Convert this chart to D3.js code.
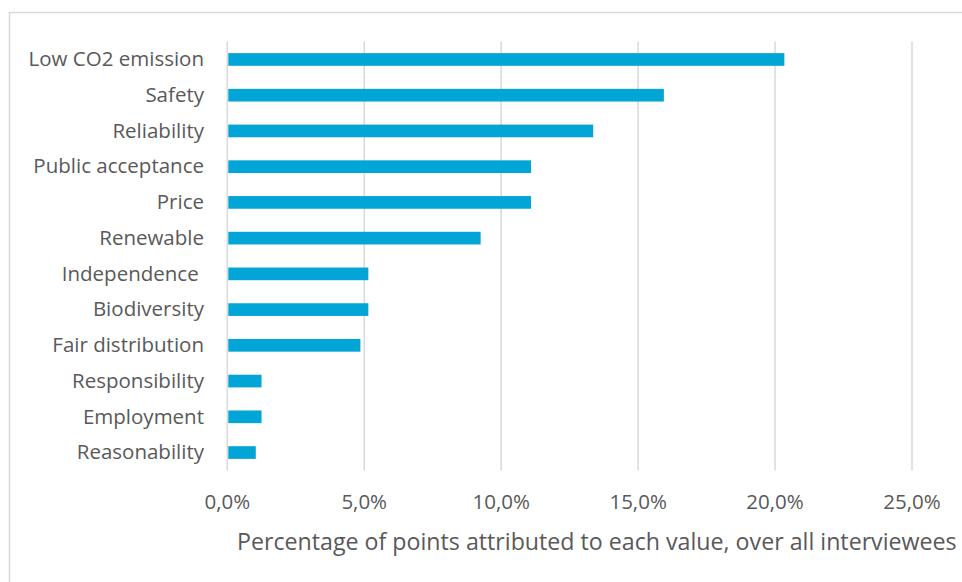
<!DOCTYPE html>
<html>
<head>
<meta charset="utf-8">
<script src="https://cdnjs.cloudflare.com/ajax/libs/d3/7.8.5/d3.min.js"></script>
<style>
  body { margin: 0; background: #fff; }
  svg { display: block; }
</style>
</head>
<body>
<div id="chart"></div>
<script>
var categories = ['Low CO2 emission', 'Safety', 'Reliability', 'Public acceptance', 'Price', 'Renewable',
  'Independence ', 'Biodiversity', 'Fair distribution', 'Responsibility', 'Employment', 'Reasonability'];
var values = [20.34, 15.94, 13.36, 11.09, 11.09, 9.25, 5.15, 5.15, 4.86, 1.25, 1.25, 1.04];
var ticks = [0, 5, 10, 15, 20, 25];
var axisTitle = 'Percentage of points attributed to each value, over all interviewees';

var width = 962, height = 582;
var margin = { top: 41.6, right: 50, bottom: 111.6, left: 227.3 };
var font = '"Open Sans", sans-serif';
var textColor = '#595959';
var gridColor = '#d9d9d9';

var svg = d3.select('#chart')
  .append('svg')
  .attr('width', width)
  .attr('height', height)
  .attr('font-family', font);

// outer chart border
svg.append('rect')
  .attr('x', 9.5)
  .attr('y', 12.5)
  .attr('width', 1000)
  .attr('height', 600)
  .attr('fill', 'none')
  .attr('stroke', gridColor)
  .attr('stroke-width', 1.5);

var x = d3.scaleLinear()
  .domain([0, 25])
  .range([margin.left, 912]);

var y = d3.scaleBand()
  .domain(categories)
  .range([margin.top, height - margin.bottom])
  .paddingInner(0.645)
  .paddingOuter(0.3225);

// gridlines
svg.append('g')
  .selectAll('line')
  .data(ticks)
  .enter().append('line')
    .attr('x1', d => x(d))
    .attr('x2', d => x(d))
    .attr('y1', margin.top)
    .attr('y2', height - margin.bottom)
    .attr('stroke', gridColor)
    .attr('stroke-width', 1.5);

// bars
svg.append('g')
  .selectAll('rect')
  .data(values)
  .enter().append('rect')
    .attr('x', x(0) + 1)
    .attr('y', (d, i) => y(categories[i]))
    .attr('width', d => x(d) - x(0) - 1)
    .attr('height', y.bandwidth())
    .attr('fill', '#02a6d6');

// category labels
svg.append('g')
  .selectAll('text')
  .data(categories)
  .enter().append('text')
    .attr('x', 204)
    .attr('y', d => y(d) + y.bandwidth() / 2 + 6.8)
    .attr('text-anchor', 'end')
    .attr('font-size', 20.5)
    .attr('fill', textColor)
    .style('white-space', 'pre')
    .text(d => d);

// tick labels
svg.append('g')
  .selectAll('text')
  .data(ticks)
  .enter().append('text')
    .attr('x', d => x(d))
    .attr('y', 508.5)
    .attr('text-anchor', 'middle')
    .attr('font-size', 20.5)
    .attr('fill', textColor)
    .text(d => d3.format('.1f')(d).replace('.', ',') + '%');

// axis title (kept just inside the right edge)
svg.append('text')
  .attr('x', 237)
  .attr('y', 550)
  .attr('font-size', 23.2)
  .attr('fill', textColor)
  .text(axisTitle);
</script>
</body>
</html>
